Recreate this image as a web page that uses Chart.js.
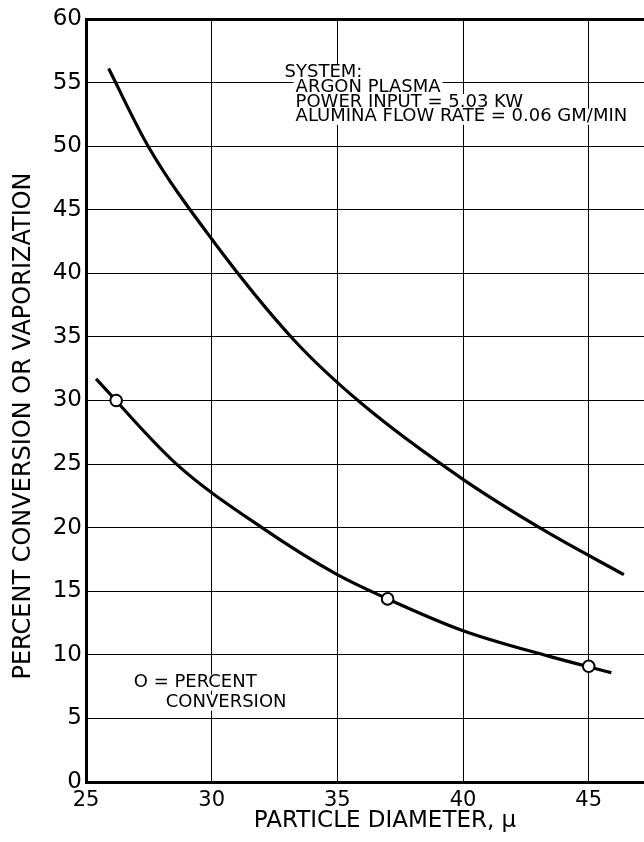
<!DOCTYPE html>
<html>
<head>
<meta charset="utf-8">
<script src="https://cdn.jsdelivr.net/npm/chart.js@4.4.1/dist/chart.umd.min.js"></script>
<style>
  html, body { margin: 0; padding: 0; background: #fff; }
  #wrap { width: 644px; height: 842px; }
</style>
</head>
<body>
<div id="wrap"><canvas id="chart" width="644" height="842"></canvas></div>
<script>
'use strict';

// upper curve, percent vaporization
const vapX = [25.9, 27.5, 30.0, 33.3, 36.0, 40.0, 43.3, 46.4];
const vapY = [56.1, 49.9, 42.7, 34.7, 29.7, 23.8, 19.7, 16.3];

// lower curve, percent conversion
const convX = [25.4, 28.6, 32.0, 35.0, 37.0, 40.0, 43.4, 45.9];
const convY = [31.7, 25.0, 20.0, 16.3, 14.4, 11.9, 9.9, 8.6];

// measured points (open circles)
const pointX = [26.2, 37.0, 45.0];
const pointY = [30.0, 14.4, 9.1];

const xTicks = [25, 30, 35, 40, 45];
const yTicks = [0, 5, 10, 15, 20, 25, 30, 35, 40, 45, 50, 55, 60];

const xTitle = 'PARTICLE DIAMETER, \u03bc';
const yTitle = 'PERCENT CONVERSION OR VAPORIZATION';
const systemNote = ['SYSTEM:', 'ARGON PLASMA', 'POWER INPUT = 5.03 KW', 'ALUMINA FLOW RATE = 0.06 GM/MIN'];
const legendNote = ['O = PERCENT', 'CONVERSION'];

const FONT = '"DejaVu Sans", "Liberation Sans", sans-serif';

const toPoints = ( xs, ys ) => xs.map( ( x, i ) => ( { x: x, y: ys[ i ] } ) );

// text blocks with a white backing, drawn over the grid
const notes = {
	id: 'notes',
	beforeDatasetsDraw: function ( chart ) {
		const ctx = chart.ctx;
		const xs = chart.scales.x;
		const ys = chart.scales.y;

		const label = ( text, px, py ) => {
			const w = ctx.measureText( text ).width;
			ctx.fillStyle = '#fff';
			ctx.fillRect( px - 2, py - 8, w + 4, 16 );
			ctx.fillStyle = '#000';
			ctx.fillText( text, px, py );
		};

		ctx.save();
		ctx.font = '18px ' + FONT;
		ctx.textBaseline = 'middle';
		ctx.textAlign = 'left';

		const sx = xs.getPixelForValue( 32.9 );
		const sy = ys.getPixelForValue( 55.8 );
		systemNote.forEach( ( line, i ) => {
			label( line, i === 0 ? sx : sx + 11, sy + i * 14.8 );
		} );

		const lx = xs.getPixelForValue( 26.9 );
		const ly = ys.getPixelForValue( 7.8 );
		label( legendNote[ 0 ], lx, ly );
		label( legendNote[ 1 ], lx + 32, ly + 20 );

		ctx.restore();
	},
	afterDraw: function ( chart ) {
		const ctx = chart.ctx;
		ctx.save();
		ctx.fillStyle = '#000';
		ctx.textAlign = 'center';
		ctx.textBaseline = 'alphabetic';

		ctx.font = '23px ' + FONT;
		ctx.fillText( xTitle, 385, 827 );

		ctx.font = '24px ' + FONT;
		ctx.translate( 30, 426 );
		ctx.rotate( -Math.PI / 2 );
		ctx.fillText( yTitle, 0, 0 );
		ctx.restore();
	},
};

const curve = {
	type: 'line',
	showLine: true,
	borderColor: '#000',
	borderWidth: 3.2,
	pointRadius: 0,
	cubicInterpolationMode: 'monotone',
	fill: false,
};

new Chart( document.getElementById( 'chart' ), {
	type: 'scatter',
	data: {
		datasets: [
			{
				label: 'Percent conversion (measured)',
				data: toPoints( pointX, pointY ),
				pointRadius: 5.8,
				pointBorderWidth: 2,
				pointBackgroundColor: '#fff',
				pointBorderColor: '#000',
				showLine: false,
			},
			Object.assign( { label: 'Percent conversion', data: toPoints( convX, convY ) }, curve ),
			Object.assign( { label: 'Percent vaporization', data: toPoints( vapX, vapY ) }, curve ),
		],
	},
	options: {
		responsive: false,
		animation: false,
		events: [],
		layout: {
			autoPadding: false,
			padding: { top: 19, left: 0, right: 0, bottom: 0 },
		},
		plugins: {
			legend: { display: false },
			tooltip: { enabled: false },
		},
		scales: {
			x: {
				type: 'linear',
				min: 25,
				max: 47.2,
				afterBuildTicks: ( scale ) => {
					scale.ticks = xTicks.map( v => ( { value: v } ) );
				},
				afterFit: ( scale ) => {
					scale.height = 60;
					scale.paddingLeft = 0;
					scale.paddingRight = 0;
				},
				grid: { color: '#000', lineWidth: 1, drawTicks: false },
				border: { color: '#000', width: 3 },
				ticks: {
					color: '#000',
					padding: 6,
					font: { family: FONT, size: 21 },
				},
			},
			y: {
				type: 'linear',
				min: 0,
				max: 60,
				afterBuildTicks: ( scale ) => {
					scale.ticks = yTicks.map( v => ( { value: v } ) );
				},
				afterFit: ( scale ) => {
					scale.width = 86;
				},
				grid: {
					color: '#000',
					lineWidth: ( c ) => ( c.tick && c.tick.value === 60 ? 3 : 1 ),
					drawTicks: false,
				},
				border: { color: '#000', width: 3 },
				ticks: {
					color: '#000',
					padding: 4,
					font: { family: FONT, size: 23 },
				},
			},
		},
	},
	plugins: [ notes ],
} );
</script>
</body>
</html>
